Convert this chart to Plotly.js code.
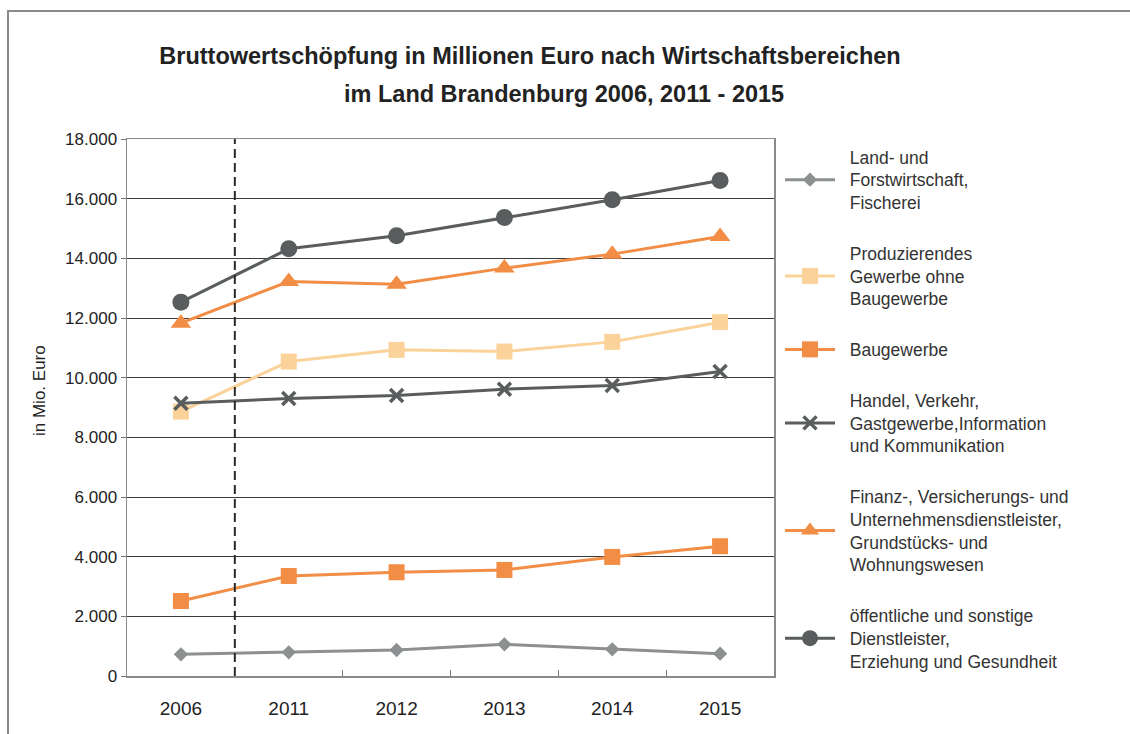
<!DOCTYPE html>
<html>
<head>
<meta charset="utf-8">
<script src="https://cdn.plot.ly/plotly-3.0.1.min.js"></script>
<style>
  html, body { margin: 0; padding: 0; background: #fff; overflow: hidden; }
  #wrap { position: relative; width: 1130px; height: 734px; overflow: hidden; }
  #chart { width: 1130px; height: 734px; }
  #frame { position: absolute; left: 7px; top: 10px; width: 1200px; height: 800px;
           border-top: 2px solid #8a8a8a; border-left: 2px solid #8a8a8a; pointer-events: none; }
</style>
</head>
<body>
<div id="wrap">
  <div id="chart"></div>
  <div id="frame"></div>
</div>
<script>
const years = ['2006', '2011', '2012', '2013', '2014', '2015'];

const landForst = [727, 795, 872, 1062, 895, 748];
const produzierend = [8863, 10540, 10932, 10876, 11200, 11861];
const baugewerbe = [2515, 3353, 3477, 3555, 3991, 4349];
const handel = [9145, 9300, 9400, 9614, 9735, 10205];
const finanz = [11828, 13222, 13135, 13672, 14141, 14732];
const oeffentlich = [12532, 14319, 14755, 15369, 15962, 16610];

const seriesNames = [
  ['Land- und', 'Forstwirtschaft,', 'Fischerei'],
  ['Produzierendes', 'Gewerbe ohne', 'Baugewerbe'],
  ['Baugewerbe'],
  ['Handel, Verkehr,', 'Gastgewerbe,Information', 'und Kommunikation'],
  ['Finanz-, Versicherungs- und', 'Unternehmensdienstleister,', 'Grundstücks- und', 'Wohnungswesen'],
  ['öffentliche und sonstige', 'Dienstleister,', 'Erziehung und Gesundheit']
];

const titleLine1 = 'Bruttowertschöpfung in Millionen Euro nach Wirtschaftsbereichen';
const titleLine2 = 'im Land Brandenburg 2006, 2011 - 2015';
const yTitle = 'in Mio. Euro';

const FONT = 'Liberation Sans, Arial, Helvetica, sans-serif';
const PAD = '\u00A0\u00A0';

function legendLabel(lines) {
  return lines.map(function (s) { return PAD + s; }).join('<br>');
}

function mk(y, idx, color, symbol, size, extraMarker) {
  return {
    type: 'scatter', mode: 'lines+markers', x: years, y: y,
    name: legendLabel(seriesNames[idx]),
    legendgroup: 'g' + idx,
    line: { color: color, width: 3 },
    marker: Object.assign({ color: color, symbol: symbol, size: size }, extraMarker || {}),
    cliponaxis: false
  };
}

const traces = [
  mk(landForst, 0, '#8d9091', 'diamond', 11),
  mk(produzierend, 1, '#fbd29a', 'square', 16),
  mk(baugewerbe, 2, '#f28d45', 'square', 16),
  mk(handel, 3, '#595d5e', 'x-thin-open', 13, { line: { color: '#595d5e', width: 3.5 } }),
  mk(finanz, 4, '#f28d45', 'triangle-up', 18),
  mk(oeffentlich, 5, '#595d5e', 'circle', 17)
];

const layout = {
  width: 1130, height: 734,
  margin: { l: 127, r: 356, t: 139, b: 58 },
  paper_bgcolor: '#fff', plot_bgcolor: '#fff',
  separators: ',.',
  font: { family: FONT, color: '#222', size: 16 },
  showlegend: true,
  title: {
    text: titleLine1, xref: 'container', yref: 'container',
    x: 530 / 1130, xanchor: 'center', y: 1 - 56 / 734, yanchor: 'middle',
    font: { family: FONT, size: 23.5, color: '#222', weight: 'bold' }
  },
  annotations: [{
    text: titleLine2, xref: 'paper', yref: 'paper',
    x: (564 - 127) / 647, y: (676 - 94) / 537, xanchor: 'center', yanchor: 'middle',
    showarrow: false, font: { family: FONT, size: 23.5, color: '#222', weight: 'bold' }
  }, {
    text: yTitle, xref: 'paper', yref: 'paper', textangle: -90,
    x: (39 - 127) / 647, y: (676 - 391) / 537, xanchor: 'center', yanchor: 'middle',
    showarrow: false, font: { family: FONT, size: 17, color: '#222' }
  }],
  xaxis: {
    type: 'category', tickson: 'boundaries', ticks: 'inside', ticklen: 6,
    tickcolor: '#777', showline: true, linecolor: '#8a8a8a', linewidth: 1.5,
    mirror: true, showgrid: false, range: [-0.5, 5.5],
    ticklabelstandoff: 15,
    tickfont: { size: 19, color: '#222' }, fixedrange: true
  },
  yaxis: {
    range: [0, 18000], dtick: 2000, tickformat: ',d',
    ticks: 'outside', ticklen: 5, tickcolor: '#777',
    showline: true, linecolor: '#8a8a8a', linewidth: 1.5, mirror: true,
    showgrid: true, gridcolor: '#3a3a3a', gridwidth: 1, zeroline: false,
    tickfont: { size: 17, color: '#222' },
    fixedrange: true
  },
  shapes: [{
    type: 'line', xref: 'x', yref: 'y', x0: 0.5, x1: 0.5, y0: 0, y1: 18000,
    line: { color: '#2a2a2a', width: 2, dash: '9px,5px' }
  }],
  legend: {
    x: (780 - 127) / 647, xanchor: 'left', y: 1.0, yanchor: 'top',
    font: { family: FONT, size: 17.5, color: '#333' },
    tracegroupgap: 25, itemwidth: 50, bgcolor: 'rgba(0,0,0,0)'
  }
};

Plotly.newPlot('chart', traces, layout, { displayModeBar: false, staticPlot: true });
</script>
</body>
</html>
